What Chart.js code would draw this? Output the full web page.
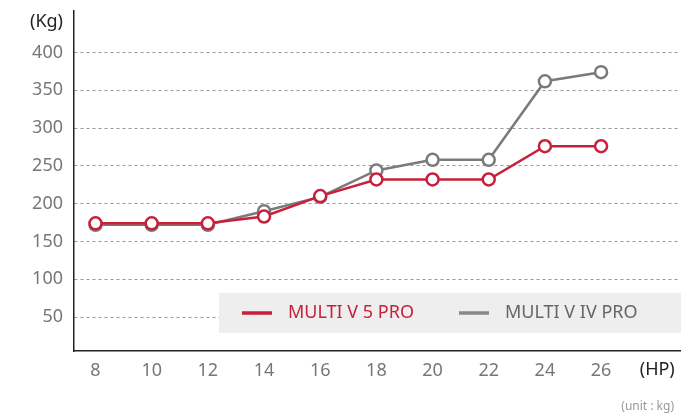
<!DOCTYPE html>
<html lang="en">
<head>
    <meta charset="UTF-8">
    <title>Weight by HP</title>
    <script src="https://cdn.jsdelivr.net/npm/chart.js"></script>
    <style>
body {
    margin: 0;
    padding: 0;
    background-color: white;
}

.chart-container {
    width: 698px;
    height: 419px;
    position: relative;
}
    </style>
</head>
<body>
    <div class="chart-container">
        <canvas id="weightChart"></canvas>
    </div>

    <script>
// Data
const hpValues = [8, 10, 12, 14, 16, 18, 20, 22, 24, 26];
const multiV5Pro = [174, 174, 174, 183, 210, 232, 232, 232, 276, 276];
const multiVIVPro = [172, 172, 172, 190, 209, 244, 258, 258, 362, 374];
const yTickValues = [50, 100, 150, 200, 250, 300, 350, 400];
const seriesNames = ['MULTI V 5 PRO', 'MULTI V IV PRO'];

const RED = '#c8203b';
const GREY = '#7a7a7a';
const FONT = "'Noto Sans', sans-serif";

function toPoints(values) {
    return hpValues.map((hp, i) => ({ x: hp, y: values[i] }));
}

// Legend box inside the chart + unit labels
const extras = {
    id: 'extras',
    beforeDatasetsDraw(chart) {
        const ctx = chart.ctx;
        const area = chart.chartArea;
        ctx.save();
        ctx.fillStyle = '#eeeeee';
        ctx.fillRect(219, 293, area.right + 1 - 219, 40);

        const items = [
            { text: seriesNames[0], line: RED, color: RED, x: 242 },
            { text: seriesNames[1], line: '#888888', color: '#666666', x: 459 }
        ];
        ctx.font = '18px ' + FONT;
        ctx.textBaseline = 'middle';
        items.forEach(it => {
            ctx.strokeStyle = it.line;
            ctx.lineWidth = 3.5;
            ctx.beginPath();
            ctx.moveTo(it.x, 313);
            ctx.lineTo(it.x + 30, 313);
            ctx.stroke();
            ctx.fillStyle = it.color;
            ctx.fillText(it.text, it.x + 46, 313);
        });
        ctx.restore();
    },
    afterDraw(chart) {
        const ctx = chart.ctx;
        const x = chart.scales.x;
        ctx.save();
        ctx.font = '18px ' + FONT;
        ctx.fillStyle = '#222';
        ctx.textBaseline = 'middle';
        ctx.textAlign = 'right';
        ctx.fillText('(Kg)', 63, 22);
        ctx.textAlign = 'center';
        ctx.fillText('(HP)', x.getPixelForValue(28), 370);
        ctx.font = '12px ' + FONT;
        ctx.fillStyle = '#999';
        ctx.textAlign = 'right';
        ctx.fillText('(unit : kg)', 674, 407);
        ctx.restore();
    }
};

const ctx = document.getElementById('weightChart').getContext('2d');
const chart = new Chart(ctx, {
    type: 'line',
    data: {
        datasets: [{
            label: seriesNames[0],
            data: toPoints(multiV5Pro),
            borderColor: RED,
            backgroundColor: '#ffffff',
            borderWidth: 2.5,
            pointRadius: 6,
            pointBorderWidth: 2.5,
            pointBackgroundColor: '#ffffff',
            pointBorderColor: RED
        }, {
            label: seriesNames[1],
            data: toPoints(multiVIVPro),
            borderColor: GREY,
            backgroundColor: '#ffffff',
            borderWidth: 2.5,
            pointRadius: 6,
            pointBorderWidth: 2.5,
            pointBackgroundColor: '#ffffff',
            pointBorderColor: GREY
        }]
    },
    options: {
        responsive: true,
        maintainAspectRatio: false,
        animation: false,
        layout: {
            padding: { top: 11, right: 18, left: 0, bottom: 0 }
        },
        plugins: {
            legend: { display: false },
            tooltip: { enabled: false }
        },
        scales: {
            x: {
                type: 'linear',
                min: 7.234,
                max: 28.81,
                afterBuildTicks(scale) {
                    scale.ticks = hpValues.map(v => ({ value: v }));
                },
                afterFit(scale) {
                    scale.height = 68;
                    scale.paddingLeft = 0;
                    scale.paddingRight = 0;
                },
                grid: { display: false, drawTicks: false },
                border: { color: '#222', width: 1.5 },
                ticks: {
                    color: '#777',
                    font: { family: FONT, size: 18 },
                    padding: 9,
                    maxRotation: 0,
                    autoSkip: false
                }
            },
            y: {
                min: 5,
                max: 455,
                afterBuildTicks(scale) {
                    scale.ticks = yTickValues.map(v => ({ value: v }));
                },
                afterFit(scale) {
                    scale.width = 74;
                    scale.paddingTop = 0;
                    scale.paddingBottom = 0;
                },
                grid: {
                    color: '#999',
                    lineWidth: 1,
                    drawTicks: false
                },
                // in v4 border.dash styles the grid lines
                border: { color: '#222', width: 1.5, dash: [3, 3] },
                ticks: {
                    color: '#777',
                    font: { family: FONT, size: 18 },
                    padding: 11
                }
            }
        }
    },
    plugins: [extras]
});
    </script>
</body>
</html>
